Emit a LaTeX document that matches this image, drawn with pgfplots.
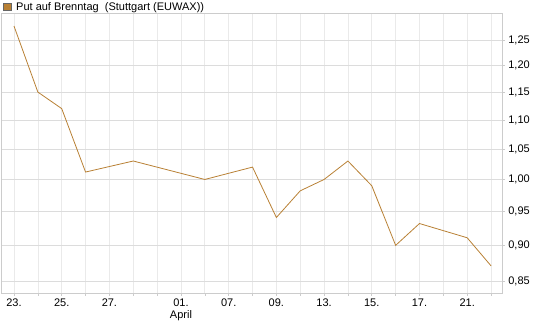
\documentclass[border=0pt]{standalone}
\usepackage{pgfplots}
\pgfplotsset{compat=1.18}
\usepackage{fontspec}
\setmainfont{Liberation Sans}
\definecolor{lc}{RGB}{184,128,52}
\definecolor{gridc}{RGB}{234,234,234}
\definecolor{hgridc}{RGB}{220,220,220}
\definecolor{borderc}{RGB}{204,204,204}
\begin{document}
\fontsize{11}{13}\selectfont
\begin{tikzpicture}
\useasboundingbox (0,0) rectangle (545pt,327pt);
\begin{axis}[
  at={(1pt,34pt)}, anchor=south west,
  scale only axis, width=501pt, height=280pt,
  xmin=-0.545, xmax=20.46,
  ymode=log, ymin=0.834, ymax=1.305,
  axis line style={borderc},
  xtick={0,2,4,7,9,11,13,15,17,19},
  xticklabels={23.,25.,27.,{01.\\April},07.,09.,13.,15.,17.,21.},
  minor xtick={1,3,5,6,8,10,12,14,16,18,20},
  ytick={0.85,0.90,0.95,1.00,1.05,1.10,1.15,1.20,1.25},
  yticklabels={{0,85},{0,90},{0,95},{1,00},{1,05},{1,10},{1,15},{1,20},{1,25}},
  minor ytick={},
  log basis y=10,
  xtick pos=bottom, ytick pos=right,
  yticklabel pos=right,
  tick align=outside,
  major tick length=3pt, minor tick length=3pt,
  tick style={borderc, line width=0.6pt},
  xmajorgrids, xminorgrids, ymajorgrids,
  x grid style={gridc, line width=0.7pt},
  minor x grid style={gridc, line width=0.7pt},
  y grid style={hgridc, line width=0.7pt},
  xticklabel style={align=center, font=\fontsize{11}{12}\selectfont, yshift=1pt},
  yticklabel style={font=\fontsize{11}{12}\selectfont, anchor=west, xshift=-0.5pt},
  legend style={at={(0,1)}, anchor=south west, draw=none, fill=none,
    inner sep=0pt, xshift=2pt, yshift=-1pt, font=\fontsize{11}{12}\selectfont},
  legend image code/.code={\draw[fill=lc, draw=black!60, line width=0.5pt] (0pt,-3.5pt) rectangle (7.5pt,4pt);},
  legend cell align=left,
]
\addplot[color=lc, line width=0.8pt, mark=none] coordinates {
  (0,1.278) (1,1.15) (2,1.12) (3,1.012) (5,1.03) (8,1.00) (10,1.02)
  (11,0.941) (12,0.982) (13,1.00) (14,1.03) (15,0.99) (16,0.90)
  (17,0.932) (19,0.911) (20,0.871)
};
\addlegendentry{\hspace{3pt}Put auf Brenntag\ \ (Stuttgart (EUWAX))}
\end{axis}
\end{tikzpicture}
\end{document}
